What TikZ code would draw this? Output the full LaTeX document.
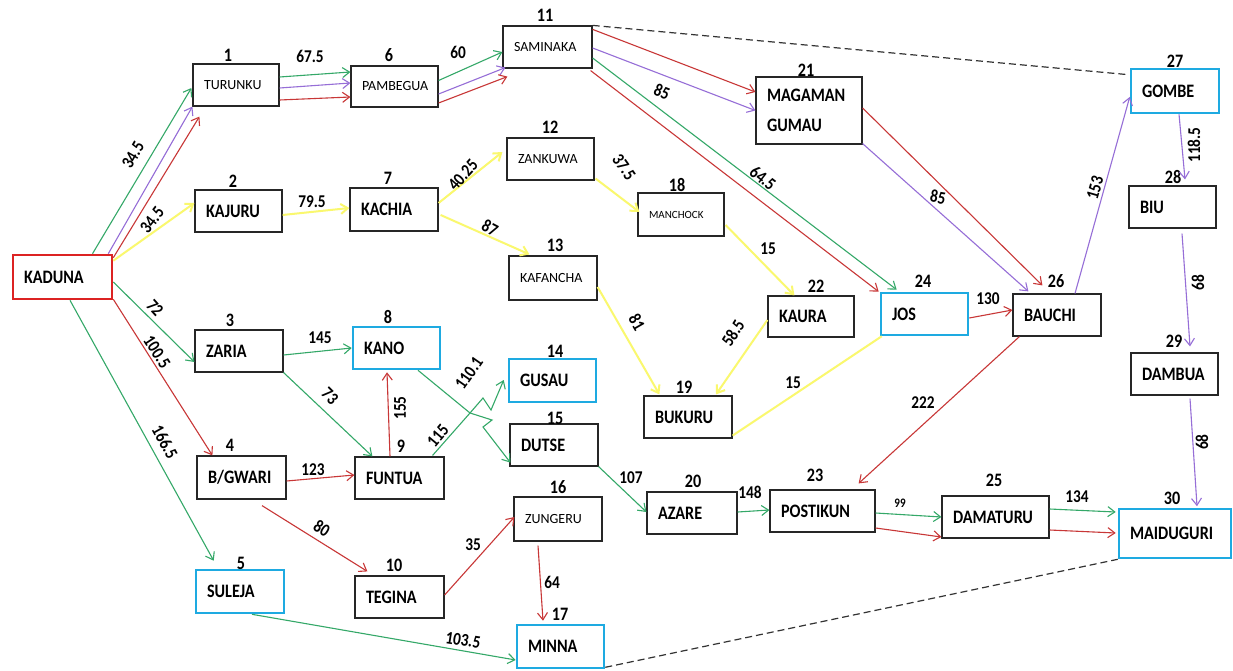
\documentclass[tikz,border=0pt]{standalone}
\usepackage{fontspec}
\setmainfont{Carlito}
\newfontfamily\cf{Carlito}[FakeStretch=0.85]
\usetikzlibrary{arrows.meta,calc}
\definecolor{cgreen}{RGB}{52,168,104}
\definecolor{cpurple}{RGB}{150,110,215}
\definecolor{cred}{RGB}{200,55,55}
\definecolor{cyellow}{RGB}{250,248,110}
\definecolor{bblue}{RGB}{30,170,225}
\definecolor{kred}{RGB}{220,35,35}
\begin{document}
\begin{tikzpicture}[x=1pt,y=-1pt,
 box/.style={draw=black!85, line width=1.2pt, rectangle, inner xsep=11pt, inner ysep=0pt, align=left, font=\cf\bfseries\fontsize{19}{23}\selectfont},
 sm/.style={font=\fontsize{14}{16}\selectfont},
 blu/.style={draw=bblue, line width=2.6pt},
 num/.style={font=\cf\bfseries\fontsize{19}{22}\selectfont, inner sep=0pt},
 elab/.style={font=\cf\bfseries\fontsize{18}{22}\selectfont, inner sep=0pt},
 arw/.style={line width=1.1pt, -{Straight Barb[length=7pt,width=10pt]}},
 eg/.style={arw, draw=cgreen},
 ep/.style={arw, draw=cpurple},
 er/.style={arw, draw=cred},
 ey/.style={arw, draw=cyellow, line width=2pt},
 dsh/.style={draw=black!80, line width=1.2pt, dash pattern=on 7pt off 4pt}
]
\fill[white] (0,0) rectangle (1233,671);
\useasboundingbox (0,0) rectangle (1233,671);

% ---------- boxes ----------
\node[box, draw=kred, line width=2.6pt, minimum width=99pt, minimum height=44pt, text width=77pt] (kad) at (62.5,277) {\mbox{KADUNA}};
\node[box, sm, minimum width=86pt, minimum height=42pt, text width=64pt] (n1) at (236,85) {\mbox{TURUNKU}};
\node[box, sm, minimum width=87pt, minimum height=41pt, text width=65pt] (n6) at (394.5,86.5) {\mbox{PAMBEGUA}};
\node[box, sm, minimum width=89pt, minimum height=42pt, text width=67pt] (n11) at (547.5,47) {\mbox{SAMINAKA}};
\node[box, minimum width=106pt, minimum height=67pt, text width=84pt] (n21) at (809,110.5) {MAGAMAN\\[7pt]GUMAU};
\node[box, blu, minimum width=88pt, minimum height=44pt, text width=66pt] (n27) at (1175,91) {\mbox{GOMBE}};
\node[box, minimum width=87pt, minimum height=42pt, text width=65pt] (n28) at (1172.5,207) {\mbox{BIU}};
\node[box, minimum width=87pt, minimum height=42pt, text width=65pt] (n2) at (238.5,211) {\mbox{KAJURU}};
\node[box, minimum width=88pt, minimum height=43pt, text width=66pt] (n7) at (394,209.5) {\mbox{KACHIA}};
\node[box, sm, minimum width=87pt, minimum height=42pt, text width=65pt] (n12) at (550.5,159) {\mbox{ZANKUWA}};
\node[box, font=\fontsize{11}{13}\selectfont, minimum width=86pt, minimum height=43pt, text width=64pt] (n18) at (681,214.5) {\mbox{MANCHOCK}};
\node[box, sm, minimum width=88pt, minimum height=44pt, text width=66pt] (n13) at (553,278) {\mbox{KAFANCHA}};
\node[box, minimum width=86pt, minimum height=41pt, text width=64pt] (n22) at (811,316.5) {\mbox{KAURA}};
\node[box, blu, minimum width=87pt, minimum height=42pt, text width=65pt] (n24) at (924.5,314) {\mbox{JOS}};
\node[box, minimum width=88pt, minimum height=42pt, text width=66pt] (n26) at (1057,315) {\mbox{BAUCHI}};
\node[box, minimum width=87pt, minimum height=42pt, text width=65pt] (n29) at (1174.5,374) {\mbox{DAMBUA}};
\node[box, minimum width=88pt, minimum height=42pt, text width=66pt] (n3) at (239,351) {\mbox{ZARIA}};
\node[box, blu, minimum width=87pt, minimum height=42pt, text width=65pt] (n8) at (396.5,348) {\mbox{KANO}};
\node[box, blu, minimum width=87pt, minimum height=43pt, text width=65pt] (n14) at (552.5,380.5) {\mbox{GUSAU}};
\node[box, minimum width=88pt, minimum height=42pt, text width=66pt] (n15) at (554,445) {\mbox{DUTSE}};
\node[box, minimum width=88pt, minimum height=42pt, text width=66pt] (n19) at (688,417) {\mbox{BUKURU}};
\node[box, minimum width=89pt, minimum height=43pt, text width=67pt] (n4) at (241.5,477.5) {\mbox{B/GWARI}};
\node[box, minimum width=89pt, minimum height=42pt, text width=67pt] (n9) at (399.5,478) {\mbox{FUNTUA}};
\node[box, blu, minimum width=88pt, minimum height=43pt, text width=66pt] (n5) at (240,591.5) {\mbox{SULEJA}};
\node[box, minimum width=89pt, minimum height=42pt, text width=67pt] (n10) at (399.5,597) {\mbox{TEGINA}};
\node[box, sm, minimum width=88pt, minimum height=44pt, text width=66pt] (n16) at (558,519) {\mbox{ZUNGERU}};
\node[box, blu, minimum width=87pt, minimum height=43pt, text width=65pt] (n17) at (560.5,646.5) {\mbox{MINNA}};
\node[box, minimum width=90pt, minimum height=42pt, text width=68pt] (n20) at (692,513) {\mbox{AZARE}};
\node[box, minimum width=105pt, minimum height=42pt, text width=83pt] (n23) at (822.5,511) {\mbox{POSTIKUN}};
\node[box, minimum width=107pt, minimum height=42pt, text width=85pt] (n25) at (995.5,517) {\mbox{DAMATURU}};
\node[box, blu, minimum width=112pt, minimum height=49pt, text width=90pt] (n30) at (1175,533.5) {\mbox{MAIDUGURI}};

% ---------- node numbers ----------
\node[num] (t1) at (228,55) {1};
\node[num] (t2) at (233,181) {2};
\node[num] (t3) at (230,320) {3};
\node[num] (t4) at (230,445) {4};
\node[num] (t5) at (241,563) {5};
\node[num] (t6) at (389,55) {6};
\node[num] (t7) at (388,178) {7};
\node[num] (t8) at (388,317) {8};
\node[num] (t9) at (401,446) {9};
\node[num] (t10) at (394,565) {10};
\node[num] (t11) at (545,15) {11};
\node[num] (t12) at (550,127) {12};
\node[num] (t13) at (555,245) {13};
\node[num] (t14) at (555,351) {14};
\node[num] (t15) at (555,418) {15};
\node[num] (t16) at (558,487) {16};
\node[num] (t17) at (560,614) {17};
\node[num] (t18) at (677,185) {18};
\node[num] (t19) at (684,387) {19};
\node[num] (t20) at (693,481) {20};
\node[num] (t21) at (806,70) {21};
\node[num] (t22) at (816,286) {22};
\node[num] (t23) at (815,475) {23};
\node[num] (t24) at (923,281) {24};
\node[num] (t25) at (994,480) {25};
\node[num] (t26) at (1056,281) {26};
\node[num] (t27) at (1175,61) {27};
\node[num] (t28) at (1173,177) {28};
\node[num] (t29) at (1174,341) {29};
\node[num] (t30) at (1172,498) {30};

% ---------- jog coordinates ----------
\coordinate (j1) at (470,413);
\coordinate (j2) at (483,398);
\coordinate (j3) at (491,410);
\coordinate (j4) at (492,420);
\coordinate (j5) at (483,427);

% ---------- connectors ----------
\draw[eg] ($(kad.north)+(30,0)$) -- ($(n1.west)+(-1,3)$);
\draw[ep] ($(kad.north east)+(-5,0)$) -- (n1.south west);
\draw[er] ($(kad.north east)+(0,4)$) -- ($(n1.south west)+(7,10)$);
\draw[ey] ($(kad.north east)+(0,7)$) -- ($(n2.west)+(0,-8)$);
\draw[eg] ($(kad.east)+(0,5)$) -- ($(n3.west)+(0,11)$);
\draw[er] ($(kad.south east)+(0,-1)$) -- ($(n4.north west)+(16,0)$);
\draw[eg] ($(kad.south)+(7.5,0)$) -- ($(n5.north west)+(19,-8)$);

\draw[eg] ($(n1.east)+(0,-8)$) -- ($(n6.west)+(0,-14.5)$);
\draw[ep] ($(n1.east)+(0,3)$) -- ($(n6.west)+(0,-3.5)$);
\draw[er] ($(n1.east)+(0,15)$) -- ($(n6.west)+(0,10.5)$);

\draw[eg] ($(n6.east)+(0,-6)$) -- ($(n11.west)+(0,5)$);
\draw[ep] ($(n6.east)+(0,7.5)$) -- ($(n11.south west)+(3,-1)$);
\draw[er] ($(n6.east)+(0,16.5)$) -- ($(n11.south west)+(5,8)$);

\draw[er] ($(n11.north east)+(0,4)$) -- ($(n21.west)+(0,-18.5)$);
\draw[ep] ($(n11.east)+(0,1)$) -- (n21.west);
\draw[eg] ($(n11.east)+(0,11)$) -- ($(n24.north west)+(17,-2)$);
\draw[er] ($(n11.south east)+(-2,2)$) -- ($(n24.north west)+(-1,0)$);

\draw[er] ($(n21.east)+(0,-2.5)$) -- ($(n26.north west)+(30,-8)$);
\draw[ep] ($(n21.south east)+(0,-1)$) -- ($(n26.north west)+(16,-2)$);
\draw[er] ($(n24.east)+(0,4)$) -- ($(n26.west)+(0,-5)$);

\draw[ep] ($(n26.north)+(18,0)$) -- ($(n27.west)+(0,6)$);
\draw[ep] ($(n27.south)+(4,0)$) -- ($(n28.north)+(12.5,-6)$);
\draw[ep] ($(n28.south)+(9.5,5)$) -- ($(n29.north)+(15.5,-6)$);
\draw[ep] ($(n29.south)+(15.5,3)$) -- ($(n30.north)+(22,-1.5)$);

\draw[ey] ($(n2.east)+(0,4)$) -- ($(n7.west)+(0,-1.5)$);
\draw[ey] ($(n7.east)+(0,-6.5)$) -- ($(n12.west)+(-4,-7)$);
\draw[ey] ($(n7.east)+(2,5.5)$) -- ($(n13.north west)+(21,-1)$);
\draw[ey] ($(n12.south east)+(1,-2)$) -- ($(n18.west)+(2,-2.5)$);
\draw[ey] ($(n18.east)+(1,10.5)$) -- ($(n22.north west)+(27,0)$);
\draw[ey] ($(n13.east)+(0,9)$) -- ($(n19.north west)+(16,-1)$);
\draw[ey] ($(n22.west)+(0,3.5)$) -- ($(n19.north)+(28,-1)$);
\draw[ey, arrows=-] ($(n24.south west)+(2,0)$) -- ($(n19.south east)+(0,-3)$);

\draw[eg] ($(n3.east)+(0,4)$) -- (n8.west);
\draw[eg] (n3.south east) -- ($(n9.north west)+(18,0)$);
\draw[er] ($(n9.north)+(-9.5,0)$) -- ($(n8.south)+(-9.5,2)$);
\draw[eg] ($(n9.north east)+(-12,-1)$) -- (j1) -- (j2) -- (j3) -- ($(n14.west)+(-4,-0.5)$);
\draw[eg] ($(n8.south)+(21.5,0)$) -- (j1) -- (j4) -- (j5) -- ($(n15.south west)+(1,-4)$);

\draw[er] ($(n4.east)+(0,3.5)$) -- ($(n9.west)+(0,-3)$);
\draw[er] ($(n4.south)+(20.5,6)$) -- ($(n10.north west)+(13,-4)$);
\draw[er] ($(n10.east)+(0,-2)$) -- ($(n16.west)+(1,-2)$);
\draw[er] ($(n16.south)+(-20,4)$) -- ($(n17.north)+(-17.5,-3)$);
\draw[eg] ($(n5.south)+(12,0)$) -- ($(n17.west)+(0,13.5)$);

\draw[eg] (n15.south east) -- ($(n20.west)+(0,-1)$);
\draw[eg] ($(n20.east)+(0,-1)$) -- ($(n23.west)+(0,-1)$);
\draw[er] ($(n26.south west)+(7,0)$) -- ($(n23.north east)+(-17,-6)$);
\draw[eg] ($(n23.east)+(0,2)$) -- (n25.west);
\draw[er] ($(n23.east)+(0,17)$) -- ($(n25.west)+(0,20)$);
\draw[eg] ($(n25.east)+(0,-8)$) -- ($(n30.west)+(-2,-21.5)$);
\draw[er] ($(n25.east)+(0,13)$) -- ($(n30.west)+(-2,-0.5)$);

\draw[dsh] (n11.north east) -- ($(n27.north west)+(-1,7)$);
\draw[dsh] ($(n17.south east)+(0,-2)$) -- (n30.south west);

% ---------- edge labels ----------
\node[elab, rotate=60] (w1) at (133,155) {34.5};
\node[elab, rotate=52] (w2) at (152,220) {34.5};
\node[elab, rotate=-48] (w3) at (155,308) {72};
\node[elab, rotate=-57] (w4) at (157,352) {100.5};
\node[elab, rotate=-61] (w5) at (165,442) {166.5};
\node[elab] (w6) at (310,56) {67.5};
\node[elab] (w7) at (458,52) {60};
\node[elab, rotate=-22] (w8) at (662,92) {85};
\node[elab, rotate=-38] (w9) at (763,178) {64.5};
\node[elab, rotate=-10] (w10) at (938,197) {85};
\node[elab] (w11) at (988,299) {130};
\node[elab, rotate=74] (w12) at (1095,188) {153};
\node[elab, rotate=90] (w13) at (1194,145) {118.5};
\node[elab, rotate=90] (w14) at (1198,283) {68};
\node[elab, rotate=90] (w15) at (1202,442) {68};
\node[elab] (w16) at (312,202) {79.5};
\node[elab, rotate=48] (w17) at (463,175) {40.25};
\node[elab, rotate=-28] (w18) at (490,228) {87};
\node[elab, rotate=-55] (w19) at (624,167) {37.5};
\node[elab] (w20) at (768,249) {15};
\node[elab, rotate=-60] (w21) at (637,322) {81};
\node[elab, rotate=58] (w22) at (733,333) {58.5};
\node[elab] (w23) at (793,383) {15};
\node[elab] (w24) at (320,338) {145};
\node[elab, rotate=-45] (w25) at (330,396) {73};
\node[elab, rotate=90] (w26) at (400,408) {155};
\node[elab, rotate=50] (w27) at (438,436) {115};
\node[elab, rotate=55] (w28) at (469,373) {110.1};
\node[elab] (w29) at (313,470) {123};
\node[elab, rotate=-32] (w30) at (322,528) {80};
\node[elab] (w31) at (473,545) {35};
\node[elab] (w32) at (552,582) {64};
\node[elab, rotate=-9] (w33) at (463,640) {103.5};
\node[elab] (w34) at (631,478) {107};
\node[elab] (w35) at (750,492) {148};
\node[elab] (w36) at (923,403) {222};
\node[elab, font=\cf\bfseries\fontsize{13}{15}\selectfont] (w37) at (900,503) {99};
\node[elab] (w38) at (1077,497) {134};
\end{tikzpicture}
\end{document}
